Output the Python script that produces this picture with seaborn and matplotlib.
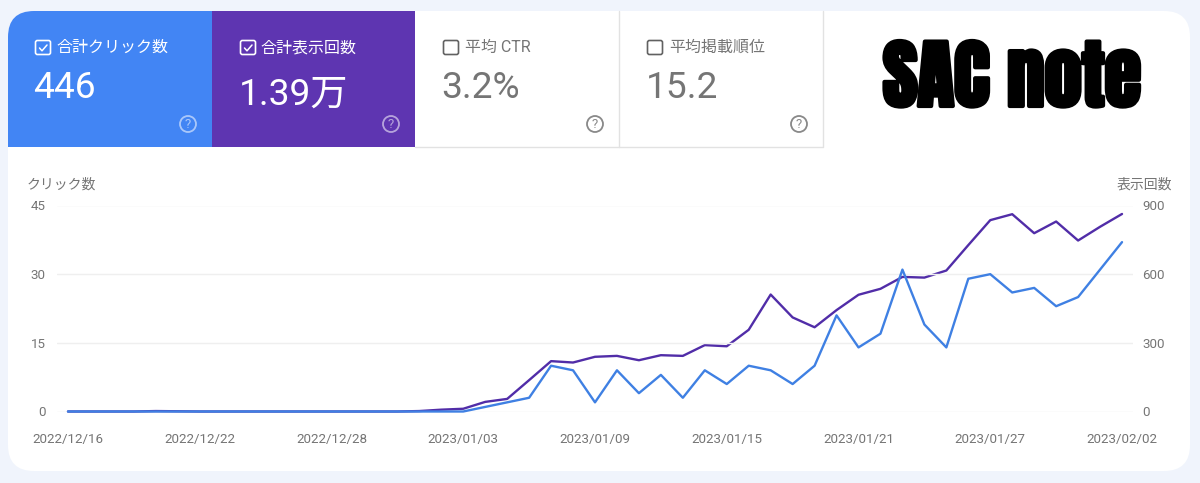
import matplotlib
matplotlib.use("Agg")
import matplotlib.pyplot as plt
import matplotlib.dates as mdates
import matplotlib.patheffects as pe
from matplotlib.patches import FancyBboxPatch, Rectangle, Circle
import pandas as pd
import seaborn as sns

clicks = [0, 0, 0, 0, 0, 0, 0, 0, 0, 0, 0, 0, 0, 0, 0, 0, 0, 0, 0,
          1, 2, 3, 10, 9, 2, 9, 4, 8, 3, 9, 6, 10, 9, 6, 10, 21, 14, 17,
          31, 19, 14, 29, 30, 26, 27, 23, 25, 31, 37]
impressions = [0, 0, 0, 0, 2, 1, 0, 0, 0, 0, 0, 0, 0, 0, 0, 0, 2, 8, 12,
               42, 55, 137, 220, 214, 239, 243, 224, 246, 243, 290, 285, 357, 511, 411, 368, 443, 510, 536,
               588, 585, 616, 727, 836, 862, 779, 830, 747, 807, 863]
start_date = "2022-12-16"
tick_dates = ["2022-12-16", "2022-12-22", "2022-12-28", "2023-01-03", "2023-01-09",
              "2023-01-15", "2023-01-21", "2023-01-27", "2023-02-02"]
left_ticks = [0, 15, 30, 45]
right_ticks = [0, 300, 600, 900]
card_labels = ["合計クリック数", "合計表示回数", "平均 CTR", "平均掲載順位"]
card_values = ["446", "1.39万", "3.2%", "15.2"]
watermark = "SAC note"
left_title = "クリック数"
right_title = "表示回数"

BLUE = "#4285f4"
PURPLE = "#5e35b1"
LINE_BLUE = "#3f80e3"
LINE_PURPLE = "#512da8"
GREY = "#757575"
FONT = ["Roboto", "Noto Sans CJK JP", "DejaVu Sans"]

sns.set_theme(style="white")
plt.rcParams["font.family"] = FONT

W, H = 1200, 483
fig = plt.figure(figsize=(W / 100, H / 100), dpi=100, facecolor="#f0f4fc")

# Decorative layer in pixel coordinates
bg = fig.add_axes([0, 0, 1, 1], zorder=0)
bg.set_xlim(0, W)
bg.set_ylim(H, 0)
bg.axis("off")
panel = FancyBboxPatch((8 + 26, 11 + 26), 1182 - 52, 460 - 52,
                       boxstyle="round,pad=26,rounding_size=26", fc="white", ec="none")
bg.add_patch(panel)

cards = [(8, 212, BLUE, "white"), (212, 415, PURPLE, "white"),
         (415, 619, "white", GREY), (619, 823, "white", GREY)]
label_x = [56.5, 260.5, 465, 669]
box_x = [35, 240, 443, 647]
value_y = [88, 95, 88, 88]
for (x0, x1, fc, tc), label, value, lx, bx, vy in zip(cards, card_labels, card_values, label_x, box_x, value_y):
    rect = Rectangle((x0, 11), x1 - x0, 136, fc=fc, ec="none")
    bg.add_patch(rect)
    rect.set_clip_path(panel)
    if fc == "white":
        bg.plot([x0, x1, x1, x1], [147, 147, 147, 11], color="#e2e2e2", lw=1)
    checked = fc != "white"
    bg.add_patch(FancyBboxPatch((bx + 2, 42), 12, 11, boxstyle="round,pad=1.5,rounding_size=2",
                                fc="none", ec="white" if checked else "#616161", lw=1.2))
    if checked:
        bg.plot([bx + 4.5, bx + 7, bx + 12], [48, 50.8, 45], color="white", lw=1.1)
    bg.text(lx, 47.5, label, color=tc, fontsize=11.5, va="center", ha="left")
    bg.text(bx - 1.5, vy, value, color=tc, fontsize=26.7, va="center", ha="left")
    qx = x1 - 24
    alpha = 0.55 if checked else 0.85
    bg.add_patch(Circle((qx, 124), 8, fc="none", ec=tc, lw=1.3, alpha=alpha))
    bg.text(qx, 124, "?", color=tc, fontsize=9.5, ha="center", va="center", alpha=alpha)

bg.text(1012, 78, watermark, color="black", fontsize=54,
        family=["Anton", "Liberation Sans", "DejaVu Sans"], ha="center", va="center",
        path_effects=[pe.withStroke(linewidth=3, foreground="black")])
bg.text(27, 185, left_title, color=GREY, fontsize=10, ha="left", va="center")
bg.text(1172, 185, right_title, color=GREY, fontsize=10, ha="right", va="center")

# Chart
df = pd.DataFrame({"date": pd.date_range(start_date, periods=len(clicks), freq="D"),
                   "clicks": clicks, "impressions": impressions})
ax_left, ax_right, ax_top, ax_bottom = 57, 1133, 205.5, 411.5
ax = fig.add_axes([ax_left / W, 1 - ax_bottom / H, (ax_right - ax_left) / W, (ax_bottom - ax_top) / H], zorder=3)
ax2 = ax.twinx()
ax2.set_zorder(2)
ax.patch.set_visible(False)
ax2.patch.set_visible(False)

sns.lineplot(data=df, x="date", y="impressions", ax=ax2, color=LINE_PURPLE, lw=1.7, clip_on=False)
sns.lineplot(data=df, x="date", y="clicks", ax=ax, color=LINE_BLUE, lw=1.7, clip_on=False)

ax.set_ylim(0, 45)
ax2.set_ylim(0, 900)
ax.set_xlim(pd.Timestamp(start_date) - pd.Timedelta(hours=12),
            df["date"].iloc[-1] + pd.Timedelta(hours=12))
ax.set_xticks(pd.to_datetime(tick_dates))
ax.xaxis.set_major_formatter(mdates.DateFormatter("%Y/%m/%d"))
ax.set_yticks(left_ticks)
ax2.set_yticks(right_ticks)
ax.set_xlabel("")
ax.set_ylabel("")
ax2.set_ylabel("")
ax.tick_params(axis="x", length=0, pad=15.5, labelsize=9.6, labelcolor=GREY)
ax.tick_params(axis="y", length=0, pad=8, labelsize=9.6, labelcolor=GREY)
ax2.tick_params(axis="y", length=0, pad=6.5, labelsize=9.6, labelcolor=GREY)
for lab in ax2.get_yticklabels():
    lab.set_ha("left")
for spine in list(ax.spines.values()) + list(ax2.spines.values()):
    spine.set_visible(False)
ax2.grid(False)
ax.grid(False)
ax.yaxis.grid(True, color="#efefef", lw=1)
ax.set_axisbelow(True)

fig.savefig("out.png", dpi=100, facecolor=fig.get_facecolor())
